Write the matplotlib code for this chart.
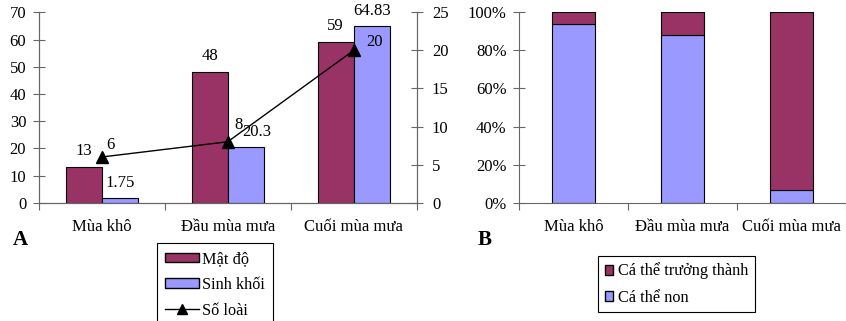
import matplotlib.pyplot as plt
import matplotlib.patches as mpatches
import matplotlib.lines as mlines

plt.rcParams['font.family'] = ['Liberation Serif', 'DejaVu Serif']
plt.rcParams['font.size'] = 12

# số liệu
mua = ['Mùa khô', 'Đầu mùa mưa', 'Cuối mùa mưa']
mat_do = [13, 48, 59]
sinh_khoi = [1.75, 20.3, 64.83]
so_loai = [6, 8, 20]
sinh_khoi_lbl = ['1.75', '20.3', '64.83']

# % cá thể non / trưởng thành
ca_the_non = [94, 88, 6.5]
ca_the_tt = [6, 12, 93.5]

RED = '#993366'
BLUE = '#9999FF'
AX = '#666666'

fig = plt.figure(figsize=(8.46, 3.21), dpi=100)
W, H = 846, 321

def px(x0, y0, x1, y1):
    return [x0 / W, 1 - y1 / H, (x1 - x0) / W, (y1 - y0) / H]

# ---------- A ----------
ax = fig.add_axes(px(38.7, 12.3, 416.7, 202.7))
x = range(len(mua))
bw = 0.286
ax.bar([i - bw / 2 for i in x], mat_do, bw, color=RED, edgecolor='black', linewidth=0.8)
ax.bar([i + bw / 2 for i in x], sinh_khoi, bw, color=BLUE, edgecolor='black', linewidth=0.8)
sk_dx = [0, 8, 0]  # nhãn 20.3 bị dịch sang phải trong hình gốc
for i in x:
    ax.annotate(str(mat_do[i]), (i - bw / 2, mat_do[i]), xytext=(0, 11.5),
                textcoords='offset points', ha='center', va='center')
    ax.annotate(sinh_khoi_lbl[i], (i + bw / 2, sinh_khoi[i]), xytext=(sk_dx[i], 11),
                textcoords='offset points', ha='center', va='center')
ax.set_xlim(-0.5, 2.5)
ax.set_ylim(0, 70)
ax.set_yticks(range(0, 71, 10))
ax.set_xticks([-0.5, 0.5, 1.5, 2.5])
ax.set_xticklabels([])
ax.set_xticks(list(x), minor=True)
ax.set_xticklabels(mua, minor=True)
ax.tick_params(axis='x', which='minor', length=0, pad=12)
ax.tick_params(axis='x', which='major', direction='out', length=5, color=AX)
ax.tick_params(axis='y', direction='inout', length=8, color=AX, pad=5)
ax.spines['top'].set_visible(False)
for s in ['left', 'bottom', 'right']:
    ax.spines[s].set_color(AX)

ax2 = ax.twinx()
ax2.plot(list(x), so_loai, color='black', linewidth=1, marker='^', markersize=8)
offs = [(6, 9), (8, 12), (15, 6)]
for i in x:
    ax2.annotate(str(so_loai[i]), (i, so_loai[i]), xytext=offs[i],
                 textcoords='offset points', ha='center', va='center')
ax2.set_ylim(0, 25)
ax2.set_yticks(range(0, 26, 5))
ax2.tick_params(axis='y', direction='inout', length=8, color=AX, pad=7)
ax2.spines['top'].set_visible(False)
for s in ['left', 'bottom', 'right']:
    ax2.spines[s].set_color(AX)

fig.text(13 / W, 1 - 240 / H, 'A', fontsize=15, fontweight='bold', va='center')

legA = fig.legend(
    handles=[mpatches.Patch(facecolor=RED, edgecolor='black', label='Mật độ'),
             mpatches.Patch(facecolor=BLUE, edgecolor='black', label='Sinh khối'),
             mlines.Line2D([], [], color='black', linewidth=1, marker='^', markersize=7,
                           label='Số loài')],
    loc='upper left', bbox_to_anchor=(157 / W, 1 - 243 / H), fancybox=False,
    edgecolor='black', framealpha=1, handlelength=2.1, handleheight=0.5,
    labelspacing=0.6, handletextpad=0.15, borderpad=0.5, borderaxespad=0,
    fontsize=11.7)
legA.get_frame().set_linewidth(0.8)

# ---------- B ----------
bx = fig.add_axes(px(519, 12.3, 846, 202.7))
bw2 = 0.4
bx.bar(list(x), ca_the_non, bw2, color=BLUE, edgecolor='black', linewidth=0.8)
bx.bar(list(x), ca_the_tt, bw2, bottom=ca_the_non, color=RED, edgecolor='black', linewidth=0.8)
bx.set_xlim(-0.5, 2.5)
bx.set_ylim(0, 100)
bx.set_yticks(range(0, 101, 20))
bx.set_yticklabels([f'{v}%' for v in range(0, 101, 20)])
bx.set_xticks([-0.5, 0.5, 1.5, 2.5])
bx.set_xticklabels([])
bx.set_xticks(list(x), minor=True)
bx.set_xticklabels(mua, minor=True)
bx.tick_params(axis='x', which='minor', length=0, pad=12)
bx.tick_params(axis='x', which='major', direction='out', length=5, color=AX)
bx.tick_params(axis='y', direction='inout', length=8, color=AX, pad=5)
for s in ['top', 'right']:
    bx.spines[s].set_visible(False)
for s in ['left', 'bottom']:
    bx.spines[s].set_color(AX)

fig.text(478 / W, 1 - 240 / H, 'B', fontsize=15, fontweight='bold', va='center')

legB = fig.legend(
    handles=[mpatches.Patch(facecolor=RED, edgecolor='black', label='Cá thể trưởng thành'),
             mpatches.Patch(facecolor=BLUE, edgecolor='black', label='Cá thể non')],
    loc='upper left', bbox_to_anchor=(598 / W, 1 - 256 / H), fancybox=False,
    edgecolor='black', framealpha=1, handlelength=0.55, handleheight=0.55,
    labelspacing=0.65, handletextpad=0.3, borderpad=0.4, borderaxespad=0,
    fontsize=11.7)
legB.get_frame().set_linewidth(0.8)

plt.savefig('out.png', dpi=100)
